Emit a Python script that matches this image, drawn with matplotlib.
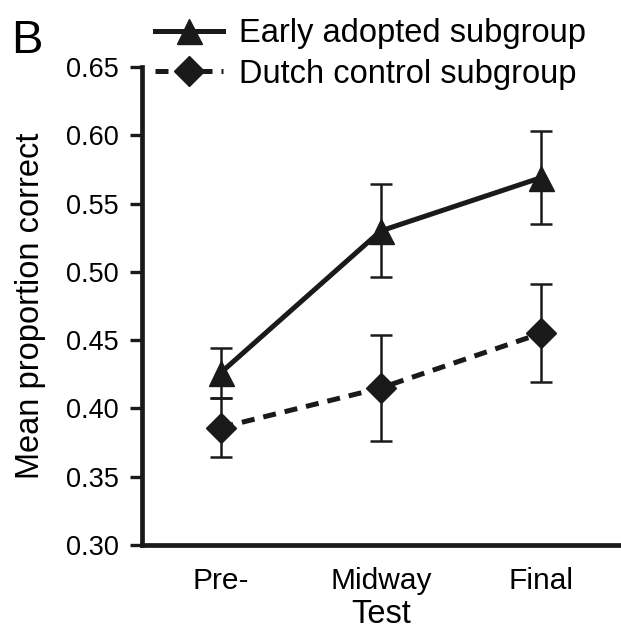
import matplotlib
matplotlib.use("Agg")
import matplotlib.pyplot as plt
import numpy as np

plt.rcParams["font.family"] = ["Liberation Sans", "DejaVu Sans"]

tests = ["Pre-", "Midway", "Final"]
early_mean = [0.426, 0.530, 0.569]
early_err = [0.0185, 0.034, 0.034]
dutch_mean = [0.386, 0.415, 0.455]
dutch_err = [0.0215, 0.039, 0.036]
yticks = [0.30, 0.35, 0.40, 0.45, 0.50, 0.55, 0.60, 0.65]

ink = "#1a1a1a"
x = np.arange(len(tests))

fig = plt.figure(figsize=(6.21, 6.37), dpi=100)
ax = fig.add_axes([0.2287, 0.1444, 0.769, 0.7504])

ax.errorbar(x, early_mean, yerr=early_err, color=ink, lw=3.6, marker="^", ms=18,
            ecolor=ink, elinewidth=1.8, capsize=8, capthick=1.8,
            label="Early adopted subgroup", zorder=3)
ax.errorbar(x, dutch_mean, yerr=dutch_err, color=ink, lw=3.6, ls=(0, (2.6, 1.8)), marker="D", ms=15,
            ecolor=ink, elinewidth=1.8, capsize=8, capthick=1.8,
            label="Dutch control subgroup", zorder=3)

ax.set_xlim(-0.49, 2.49)
ax.set_ylim(0.30, 0.65)
ax.set_xticks(x)
ax.set_xticklabels(tests, fontsize=21.5)
ax.set_yticks(yticks)
ax.set_yticklabels([f"{v:.2f}" for v in yticks], fontsize=19.5)
ax.tick_params(axis="x", length=0, pad=16)
ax.tick_params(axis="y", length=9, width=2.4, color=ink, pad=8)

for side in ("top", "right"):
    ax.spines[side].set_visible(False)
for side in ("left", "bottom"):
    ax.spines[side].set_linewidth(3.4)
    ax.spines[side].set_color(ink)

ax.set_xlabel("Test", fontsize=23.5, labelpad=3)
ax.set_ylabel("Mean proportion correct", fontsize=23.5, labelpad=14)

handles, labels = ax.get_legend_handles_labels()
handles = [h[0] for h in handles]
fig.legend(handles, labels, loc="upper left", bbox_to_anchor=(0.22, 1.0),
           frameon=False, fontsize=23.5, handlelength=2.1, handletextpad=0.5,
           labelspacing=0.3, borderaxespad=0.15)

fig.text(0.018, 0.97, "B", fontsize=34, va="top", ha="left")

fig.savefig("out.png", dpi=100)
